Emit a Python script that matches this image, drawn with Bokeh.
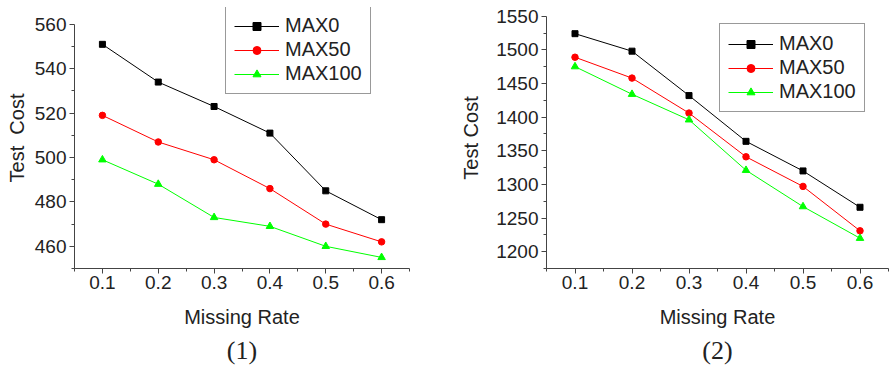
from bokeh.plotting import figure
from bokeh.layouts import row
from bokeh.models import FixedTicker, Range1d, Legend, LegendItem, Title, LinearAxis
from bokeh.embed import file_html
from bokeh.resources import INLINE

# ---- data ----
missing_rate = [0.1, 0.2, 0.3, 0.4, 0.5, 0.6]
series_names = ["MAX0", "MAX50", "MAX100"]

left_max0 = [551, 534, 523, 511, 485, 472]
left_max50 = [519, 507, 499, 486, 470, 462]
left_max100 = [499, 488, 473, 469, 460, 455]

right_max0 = [1524, 1498, 1432, 1364, 1320, 1266]
right_max50 = [1489, 1458, 1406, 1341, 1297, 1231]
right_max100 = [1475, 1434, 1396, 1321, 1267, 1220]

left_yticks = [460, 480, 500, 520, 540, 560]
right_yticks = [1200, 1250, 1300, 1350, 1400, 1450, 1500, 1550]
left_minor = [450, 470, 490, 510, 530, 550]
right_minor = [1175, 1225, 1275, 1325, 1375, 1425, 1475, 1525]
x_minor = [0.05, 0.15, 0.25, 0.35, 0.45, 0.55, 0.65]

FONT = "Liberation Sans"
SERIF = "Liberation Serif"
TXT = "#222222"
AX = "#444444"
colors = ["#000000", "#ff0000", "#00ff00"]


def make_chart(width, height, borders, xr, yr, ybounds, yticks, yminor, series,
               ylabel, label_bounds, ylabel_standoff, caption, legend_loc):
    bl, br, bt, bb = borders
    p = figure(width=width, height=height, output_backend="svg",
               toolbar_location=None, x_range=Range1d(*xr), y_range=Range1d(*yr),
               min_border_left=bl, min_border_right=br, min_border_top=bt,
               min_border_bottom=bb)
    p.title.visible = False
    p.outline_line_color = None
    p.grid.visible = False
    p.background_fill_color = "white"

    p.xaxis.ticker = FixedTicker(ticks=missing_rate, minor_ticks=x_minor)
    p.yaxis.ticker = FixedTicker(ticks=yticks, minor_ticks=yminor)
    p.yaxis.bounds = ybounds
    for ax in (p.xaxis[0], p.yaxis[0]):
        ax.axis_line_color = AX
        ax.major_tick_line_color = AX
        ax.minor_tick_line_color = AX
        ax.major_tick_out = 5
        ax.major_tick_in = 0
        ax.minor_tick_out = 3
        ax.minor_tick_in = 0
        ax.major_label_text_font = FONT
        ax.major_label_text_font_size = "19px"
        ax.major_label_text_color = TXT
        ax.axis_label_text_font = FONT
        ax.axis_label_text_font_size = "20px"
        ax.axis_label_text_font_style = "normal"
        ax.axis_label_text_color = TXT
    p.xaxis.major_label_standoff = 2
    p.yaxis.major_label_standoff = 3
    p.xaxis.axis_label = "Missing Rate"
    p.xaxis.axis_label_standoff = 14

    # y-axis title carried by a bare outer axis, so it can sit where the original does
    title_axis = LinearAxis(ticker=FixedTicker(ticks=[]), bounds=label_bounds,
                            axis_line_color=None, major_tick_line_color=None,
                            minor_tick_line_color=None, axis_label=ylabel,
                            axis_label_standoff=ylabel_standoff,
                            axis_label_text_font=FONT,
                            axis_label_text_font_size="20px",
                            axis_label_text_font_style="normal",
                            axis_label_text_color=TXT)
    p.add_layout(title_axis, "left")

    markers = ["square", "circle", "triangle"]
    sizes = [6, 6.5, 7.5]
    items = []
    for name, vals, c, m, s in zip(series_names, series, colors, markers, sizes):
        ln = p.line(missing_rate, vals, line_color=c, line_width=1)
        sc = p.scatter(missing_rate, vals, marker=m, size=s, fill_color=c,
                       line_color=c)
        items.append(LegendItem(label=name, renderers=[ln, sc]))

    legend = Legend(items=items, location=legend_loc,
                    label_text_font=FONT, label_text_font_size="20px",
                    label_text_color=TXT, glyph_width=45, glyph_height=20,
                    label_height=20, spacing=1, padding=8, label_standoff=6,
                    margin=0, border_line_color="#333333", border_line_width=1.5,
                    background_fill_alpha=1.0)
    p.add_layout(legend, "center")

    p.add_layout(Title(text=caption, align="center", text_font=SERIF,
                       text_font_size="26px", text_font_style="normal",
                       text_color=TXT, standoff=6), "below")
    return p


p1 = make_chart(440, 367, (74, 31, 7, 97), (0.05, 0.65), (450, 567.6), (450, 560),
                left_yticks, left_minor, [left_max0, left_max50, left_max100],
                "Test\u00a0 Cost", (450, 549.2), 4, "(1)", (151, 174))
p2 = make_chart(450, 367, (106, 2, 7, 97), (0.05, 0.65), (1175, 1562.9), (1175, 1550),
                right_yticks, right_minor, [right_max0, right_max50, right_max100],
                "Test Cost", (1175, 1512.8), 12, "(2)", (173, 156))

layout = row(p1, p2, spacing=0)
open("out.html", "w").write(file_html(layout, INLINE))
